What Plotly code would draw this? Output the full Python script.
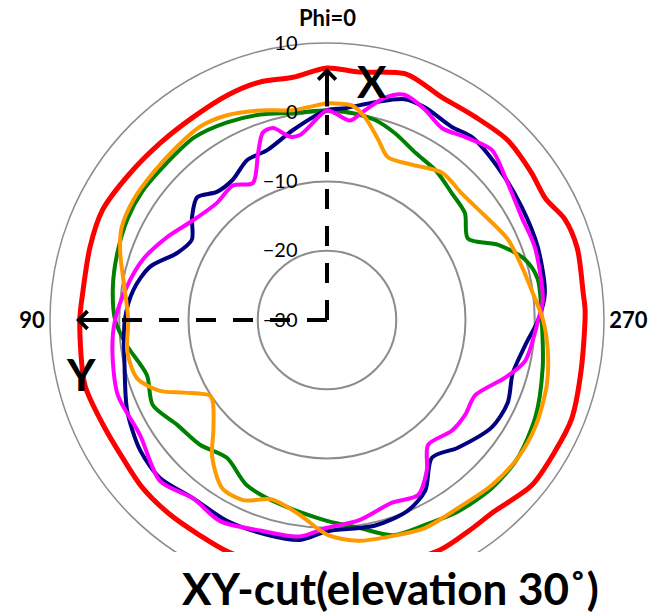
import plotly.graph_objects as go

# ---------------- data (dB vs phi in degrees) ----------------
red_theta = [0, 8, 16, 24, 33, 43, 54, 64, 73, 84, 90, 105, 115, 124, 132, 141, 149, 157, 170, 185,
             206, 214, 221, 231, 240, 248, 259, 272, 276, 286, 293, 299, 306, 315, 324, 333, 342, 353, 360]
red_r = [6.4, 5.4, 5.7, 5.5, 5.1, 5.1, 5.5, 6.1, 5.8, 5.5, 5.7, 6.2, 5.7, 5.6, 6.0, 6.1, 6.1, 6.4, 6.5, 6.8,
         7.0, 6.7, 6.7, 8.0, 8.0, 8.1, 7.4, 7.3, 7.2, 7.6, 7.3, 6.1, 6.4, 6.8, 6.3, 6.2, 7.3, 6.1, 6.4]

green_theta = [0, 9, 18, 27, 36, 45.5, 55, 63, 72, 81, 90, 97, 107, 116, 125, 134.5, 144, 154, 165, 180,
               188.5, 197, 205.6, 214.4, 224.5, 234, 245, 257.5, 270, 281, 287, 293.7, 300, 307.8, 315.5,
               324, 332, 340, 346.5, 355, 360]
green_r = [0.3, 0.3, 1.2, 2.0, 2.6, 2.4, 2.5, 2.3, 1.8, 1.3, 0.6, -0.8, -2.8, -2.0, -3.6, -4.3, -5.4, -3.5, -2.6, -1.0,
           0.3, 2.5, 2.8, 3.5, 4.0, 4.0, 3.2, 1.9, 1.0, 1.0, -0.1, -3.0, -6.5, -4.8, -4.3,
           -3.3, -2.7, -1.3, -0.3, 0.2, 0.3]

navy_theta = [0, 10, 19.4, 26.6, 33.9, 40.7, 46.6, 52.7, 59.3, 65.9, 73.3, 81.2, 90, 103, 114.5, 125, 133.4,
              143, 153.5, 164.4, 173, 180, 193, 203, 210, 217.3, 225.7, 237, 245.4, 254, 263, 270, 277, 289,
              300, 311.8, 321.6, 327.1, 335.3, 340.6, 347.6, 355.1, 360]
navy_r = [0.3, -2.1, -4.0, -4.2, -5.6, -5.6, -4.2, -5.5, -7.3, -6.3, -3.3, -1.7, -0.8, 0.0, 1.7, 2.9, 3.2,
          2.2, 2.4, 2.2, 2.0, 0.5, 0.5, -0.1, -1.6, -5.0, -3.6, -1.6, -1.3, -2.1, -1.1, 0.5, 1.7, 2.2,
          2.5, 3.1, 3.7, 3.2, 3.8, 3.8, 2.2, 0.7, 0.3]

magenta_theta = [0, 8.3, 11.4, 15.7, 18.9, 22.4, 28.4, 35, 43.2, 53.3, 62.6, 71.9, 80.6, 90, 98, 109.7,
                 121.6, 134, 143, 152, 162.4, 172.9, 180, 189, 199.6, 207.5, 213.5, 219, 228.4, 235.5,
                 243.1, 252, 258.3, 270, 275.3, 289.3, 298, 308.8, 315.9, 323, 329, 335, 341, 345.4,
                 349.7, 353.4, 357.8, 360]
magenta_r = [0.3, -3.0, -3.0, -1.2, -1.4, -3.9, -7.5, -6.3, -6.8, -5.9, -4.0, -2.0, -0.7, 0.6, 1.3, 2.1,
             1.7, 3.5, 2.2, 2.9, 1.9, 1.5, 0.0, -0.7, -2.0, -1.5, -3.9, -6.8, -5.9, -5.8,
             -6.0, -3.0, -0.8, 0.5, 1.3, 1.8, 1.8, 3.0, 4.2, 3.1, 2.3, 3.5, 4.4, 3.2,
             0.8, -1.0, -0.1, 0.3]

orange_theta = [0, 9, 18, 26, 33, 41, 50, 58, 66, 72, 81, 90, 99, 107, 113, 117, 123, 126.7, 134, 140,
                148, 155, 163, 172, 180, 188, 197, 205, 215, 225, 234, 243, 253.5, 262, 270, 278, 285,
                294, 304.6, 313, 322, 331, 339.5, 344, 349.4, 353.4, 358.7, 360]
orange_r = [1.3, 0.7, 1.8, 2.9, 3.4, 3.1, 2.9, 2.9, 2.5, 1.4, -0.4, -1.3, -0.8, -1.3, -3.8, -6.9, -9.9, -9.5, -7.2, -4.2,
            -1.4, -1.3, -2.9, -1.6, 1.0, 2.2, 2.6, 3.2, 3.1, 3.7, 4.0, 3.8, 3.1, 2.2, 1.2, -0.1, -0.8,
            -1.4, -2.8, -3.3, -3.0, -4.4, -4.9, -3.0, -0.2, 1.2, 1.3, 1.3]

radial_ticks = [-30, -20, -10, 0, 10]
angle_ticks = [90, 270]
angle_labels = ["90", "270"]
phi0_label = "Phi=0"

# axis arrows (X along phi=0, Y along phi=90)
arrow_base = -30
x_arrow_tip = 6.2
y_arrow_tip = 6.0

FONT = "Lato"
W, H = 666, 614

fig = go.Figure()

series = [
    (red_theta, red_r, "#FF0000", 5),
    (green_theta, green_r, "#008000", 4),
    (navy_theta, navy_r, "#000080", 4),
    (magenta_theta, magenta_r, "#FF00FF", 4),
    (orange_theta, orange_r, "#FF9900", 4),
]
for th, rr, col, w in series:
    fig.add_trace(go.Scatterpolar(theta=th, r=rr, mode="lines",
                                  line=dict(color=col, width=w, shape="spline", smoothing=0.8),
                                  showlegend=False, hoverinfo="skip"))

# dashed axis arrows
fig.add_trace(go.Scatterpolar(theta=[0, 0], r=[arrow_base, x_arrow_tip], mode="lines",
                              line=dict(color="black", width=4, dash="20px,17px"),
                              showlegend=False, hoverinfo="skip"))
fig.add_trace(go.Scatterpolar(theta=[90, 90], r=[arrow_base, y_arrow_tip], mode="lines",
                              line=dict(color="black", width=4, dash="20px,17px"),
                              showlegend=False, hoverinfo="skip"))

fig.update_layout(
    width=W, height=H,
    margin=dict(l=0, r=0, t=0, b=0),
    paper_bgcolor="white", plot_bgcolor="white",
    polar=dict(
        domain=dict(x=[50 / W, 604 / W], y=[1 - 597 / H, 1 - 43 / H]),
        bgcolor="white",
        angularaxis=dict(direction="counterclockwise", rotation=90,
                         tickvals=angle_ticks, ticktext=["<b>%s</b>" % t for t in angle_labels],
                         showgrid=False, showline=True, linecolor="#8c8c8c", linewidth=1.5,
                         ticks="", tickfont=dict(family=FONT, size=22, color="black")),
        radialaxis=dict(range=[-30, 10], tickvals=radial_ticks, angle=90, tickangle=90,
                        side="counterclockwise", showline=False,
                        ticks="outside", ticklen=22, tickcolor="rgba(0,0,0,0)",
                        gridcolor="#8c8c8c", gridwidth=1.5,
                        tickfont=dict(family=FONT, size=20, color="black")),
    ),
    shapes=[dict(type="rect", xref="paper", yref="paper", x0=0, x1=1, y0=0, y1=1 - 552 / H,
                 fillcolor="white", line=dict(width=0), layer="above")],
    annotations=[
        dict(text="", x=327 / W, y=1 - 68 / H, xref="paper", yref="paper",
             showarrow=True, ax=0, ay=40, arrowhead=4, arrowwidth=4, arrowsize=0.85,
             arrowcolor="black", standoff=0),
        dict(text="", x=76 / W, y=1 - 320 / H, xref="paper", yref="paper",
             showarrow=True, ax=34, ay=0, arrowhead=4, arrowwidth=4, arrowsize=0.85,
             arrowcolor="black", standoff=0),
        dict(text="<b>%s</b>" % phi0_label, x=327 / W, y=1 - 17 / H, xref="paper", yref="paper",
             xanchor="center", yanchor="middle",
             showarrow=False, font=dict(family=FONT, size=22, color="black")),
        dict(text="<b>X</b>", x=372 / W, y=1 - 81 / H, xref="paper", yref="paper",
             xanchor="center", yanchor="middle",
             showarrow=False, font=dict(family=FONT, size=44, color="black")),
        dict(text="<b>Y</b>", x=81 / W, y=1 - 374 / H, xref="paper", yref="paper",
             xanchor="center", yanchor="middle",
             showarrow=False, font=dict(family=FONT, size=44, color="black")),
        dict(text="<b>XY-cut(elevation 30˚)</b>", x=390 / W, y=1 - 588 / H, xref="paper", yref="paper",
             xanchor="center", yanchor="middle",
             showarrow=False, font=dict(family=FONT, size=44, color="black")),
    ],
)

fig.write_html("out.html", config={"displayModeBar": False},
               post_script="document.body.style.margin='0';")
